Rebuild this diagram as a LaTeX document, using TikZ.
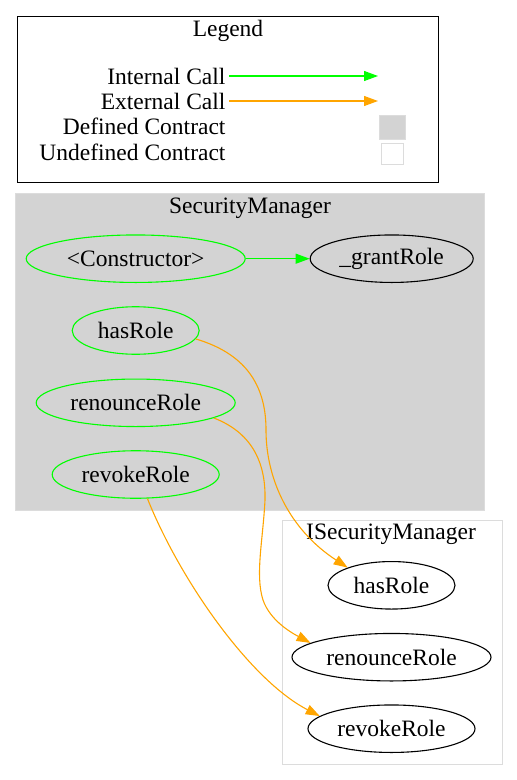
\documentclass[tikz,border=0pt]{standalone}
\usepackage{fontspec}
\setmainfont{Liberation Serif}
\usetikzlibrary{arrows.meta,shapes.geometric}
\definecolor{callgreen}{HTML}{00FF00}
\definecolor{callorange}{HTML}{FFA500}
\definecolor{clustergray}{HTML}{D3D3D3}
\definecolor{clusterline}{HTML}{DCDCDC}

\begin{document}
\begin{tikzpicture}[x=1pt, y=-1pt,
  every node/.style={font=\fontsize{23.5}{28}\selectfont},
  func/.style={ellipse, draw, line width=1.1pt, inner sep=0pt, minimum height=47.5pt},
  intfunc/.style={func, draw=callgreen},
  intcall/.style={-{Triangle[length=14pt,width=10pt]}, color=callgreen, line width=1.1pt},
  extcall/.style={-{Triangle[length=14pt,width=10pt]}, color=callorange, line width=1.1pt}]
  \useasboundingbox (0,0) rectangle (517,780);

  % Column positions
  \def\lx{229}
  \def\sm{135.7}
  \def\ism{391.5}

  % Draw legend
  \draw[line width=1pt] (17,16) rectangle (438,182);
  \node (legend) at (228,31) {Legend};
  \node[anchor=east] (intlabel) at (\lx,76) {Internal Call};
  \node[anchor=east] (extlabel) at (\lx,101) {External Call};
  \node[anchor=east] (deflabel) at (\lx,126) {Defined Contract};
  \node[anchor=east] (undeflabel) at (\lx,152) {Undefined Contract};
  \coordinate (intend) at (378,76);
  \coordinate (extend) at (378,101);
  \draw[intcall] (intlabel.east) -- (intend);
  \draw[extcall] (extlabel.east) -- (extend);
  \filldraw[fill=clustergray, draw=clusterline] (379,115) rectangle (405,139);
  \draw[clusterline, line width=1pt] (381,143) rectangle (403,164);

  % Draw SecurityManager cluster
  \filldraw[fill=clustergray, draw=clusterline, line width=1pt] (15,193) rectangle (484,510);
  \node (smtitle) at (250,208) {SecurityManager};
  \node[intfunc, minimum width=219pt] (constructor) at (\sm,258.7) {<Constructor>};
  \node[func, minimum width=163pt] (grantRole) at (391.7,258.7) {\_grantRole};
  \node[intfunc, minimum width=127pt] (hasRole) at (\sm,330.5) {hasRole};
  \node[intfunc, minimum width=199pt] (renounceRole) at (\sm,402.8) {renounceRole};
  \node[intfunc, minimum width=167pt] (revokeRole) at (\sm,474.5) {revokeRole};

  % Draw ISecurityManager cluster
  \draw[clusterline, line width=1pt] (282,520) rectangle (502,764);
  \node (ismtitle) at (391,534) {ISecurityManager};
  \node[func, minimum width=127pt] (ihasRole) at (\ism,585.3) {hasRole};
  \node[func, minimum width=199pt] (irenounceRole) at (\ism,657.2) {renounceRole};
  \node[func, minimum width=167pt] (irevokeRole) at (\ism,728.7) {revokeRole};

  % Internal call
  \draw[intcall] (constructor.east) -- (grantRole.west);

  % External calls
  \draw[extcall] (hasRole.-8) .. controls (250,355) and (266,390) .. (266,430)
    .. controls (266,480) and (290,530) .. (ihasRole.158);
  \draw[extcall] (renounceRole.-11) .. controls (250,432) and (266,460) .. (265,500)
    .. controls (263,540) and (255,575) .. (263,600)
    .. controls (270,620) and (290,632) .. (irenounceRole.170);
  \draw[extcall] (revokeRole.-64) .. controls (180,580) and (250,680) .. (irevokeRole.170);
\end{tikzpicture}
\end{document}
